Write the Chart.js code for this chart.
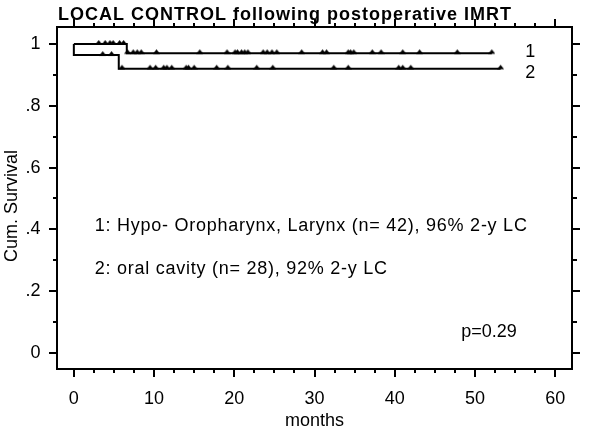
<!DOCTYPE html>
<html><head><meta charset="utf-8">
<script src="https://cdn.jsdelivr.net/npm/chart.js@4.4.1/dist/chart.umd.min.js"></script>
<style>html,body{margin:0;padding:0;background:#fff;}#wrap{width:600px;height:434px;position:relative;}</style>
</head><body><div id="wrap"><canvas id="c" width="600" height="434"></canvas></div>
<script>
// ---- data ----
const titleText = 'LOCAL CONTROL following postoperative IMRT';
const xTitle = 'months';
const yTitle = 'Cum. Survival';
const xTicks = [0, 10, 20, 30, 40, 50, 60];
const yTicks = [0, 0.2, 0.4, 0.6, 0.8, 1];
const yTickLabels = ['0', '.2', '.4', '.6', '.8', '1'];

// group 1: Hypo-/Oropharynx, Larynx
const g1EventTimes = [6.6];
const g1Levels = [0.97];
const g1End = 52.1;
const g1Censored = [3.1, 3.9, 4.5, 4.9, 5.7, 6.2, 6.7, 7.4, 7.9, 8.4, 10.3, 15.7, 19.1, 20.1, 20.4, 20.9, 21.3, 21.7,
  23.6, 24.1, 24.7, 25.3, 28.4, 31.0, 31.5, 34.2, 34.5, 34.9, 37.2, 38.3, 41.0, 43.1, 47.8, 52.1];

// group 2: oral cavity
const g2EventTimes = [0, 5.6];
const g2Levels = [0.964, 0.92];
const g2End = 53.2;
const g2Censored = [3.6, 4.7, 6.0, 9.5, 10.2, 11.2, 11.6, 12.2, 14.0, 14.3, 15.0, 17.8, 19.2, 22.8, 24.8,
  32.4, 34.2, 40.5, 41.0, 42.0, 53.2];

const noteLines = ['1: Hypo- Oropharynx, Larynx (n= 42), 96% 2-y LC', '2: oral cavity (n= 28), 92% 2-y LC'];
const pText = 'p=0.29';
const curveLabels = ['1', '2'];

// ---- helpers ----
function stepPoints(times, levels, end) {
  const pts = [{x: 0, y: 1}];
  times.forEach((t, i) => pts.push({x: t, y: levels[i]}));
  pts.push({x: end, y: levels[levels.length - 1]});
  return pts;
}
function levelAt(times, levels, t) {
  let v = 1;
  times.forEach((et, i) => { if (t >= et) v = levels[i]; });
  return v;
}
function censorPoints(cens, times, levels) {
  return cens.map(t => ({x: t, y: levelAt(times, levels, t)}));
}
// small triangle marker that sits on the line
const tri = document.createElement('canvas');
tri.width = 7; tri.height = 10;
(function(){
  const c = tri.getContext('2d');
  c.fillStyle = '#000';
  c.beginPath(); c.moveTo(0, 5.5); c.lineTo(7, 5.5); c.lineTo(3.5, 1); c.closePath(); c.fill();
})();

const FONT = '"Liberation Sans", Arial, Helvetica, sans-serif';

const framePlugin = {
  id: 'frame',
  afterDraw(chart) {
    const {ctx, chartArea: a, scales: {x, y}} = chart;
    ctx.save();
    ctx.strokeStyle = '#000';
    ctx.lineWidth = 2;
    ctx.strokeRect(a.left, a.top, a.right - a.left, a.bottom - a.top);
    ctx.beginPath();
    for (let v = 0; v <= 60; v += 2.5) {
      const px = Math.round(x.getPixelForValue(v));
      const major = v % 10 === 0;
      ctx.moveTo(px, a.top); ctx.lineTo(px, a.top - (major ? 8 : 4));
      if (!major) { ctx.moveTo(px, a.bottom); ctx.lineTo(px, a.bottom + 4); }
    }
    for (let i = 0; i <= 10; i++) {
      const py = Math.round(y.getPixelForValue(i / 10));
      const major = i % 2 === 0;
      ctx.moveTo(a.right, py); ctx.lineTo(a.right + (major ? 8 : 5), py);
      if (!major) { ctx.moveTo(a.left, py); ctx.lineTo(a.left - 4, py); }
    }
    ctx.stroke();
    ctx.fillStyle = '#000';
    // title
    ctx.font = 'bold 18px ' + FONT;
    ctx.textAlign = 'left';
    ctx.textBaseline = 'alphabetic';
    if ('letterSpacing' in ctx) ctx.letterSpacing = '1px';
    ctx.fillText(titleText, a.left + 1, 20);
    // notes
    ctx.font = '18px ' + FONT;
    if ('letterSpacing' in ctx) ctx.letterSpacing = '0.75px';
    ctx.fillText(noteLines[0], x.getPixelForValue(2.6), y.getPixelForValue(0.395));
    ctx.fillText(noteLines[1], x.getPixelForValue(2.6), y.getPixelForValue(0.256));
    if ('letterSpacing' in ctx) ctx.letterSpacing = '0px';
    ctx.fillText(pText, x.getPixelForValue(48.3), y.getPixelForValue(0.052));
    ctx.textAlign = 'center';
    ctx.textBaseline = 'middle';
    ctx.fillText(curveLabels[0], x.getPixelForValue(56.9), y.getPixelForValue(0.975));
    ctx.fillText(curveLabels[1], x.getPixelForValue(56.9), y.getPixelForValue(0.905));
    // y axis title
    ctx.save();
    ctx.translate(12, 206);
    ctx.rotate(-Math.PI / 2);
    ctx.fillText(yTitle, 0, 0);
    ctx.restore();
    ctx.restore();
  }
};

new Chart(document.getElementById('c'), {
  type: 'scatter',
  data: {
    datasets: [
      {data: stepPoints(g1EventTimes, g1Levels, g1End), showLine: true, stepped: true, borderColor: '#000',
       borderWidth: 2, pointRadius: 0, fill: false, borderJoinStyle: 'miter', borderCapStyle: 'butt'},
      {data: stepPoints(g2EventTimes, g2Levels, g2End), showLine: true, stepped: true, borderColor: '#000',
       borderWidth: 2, pointRadius: 0, fill: false, borderJoinStyle: 'miter', borderCapStyle: 'butt'},
      {data: censorPoints(g1Censored, g1EventTimes, g1Levels), showLine: false, pointStyle: tri, pointRadius: 4},
      {data: censorPoints(g2Censored, g2EventTimes, g2Levels), showLine: false, pointStyle: tri, pointRadius: 4}
    ]
  },
  options: {
    responsive: false,
    animation: false,
    devicePixelRatio: 1,
    layout: {padding: {left: 0, right: 28, top: 27, bottom: 0}},
    plugins: {
      legend: {display: false},
      tooltip: {enabled: false},
      title: {display: false}
    },
    scales: {
      x: {
        type: 'linear', position: 'bottom', min: -2.1, max: 62.1,
        afterBuildTicks: s => { s.ticks = xTicks.map(v => ({value: v})); },
        afterFit: s => { s.height = 65; },
        grid: {drawOnChartArea: false, drawTicks: true, tickLength: 8, color: '#000', lineWidth: 2},
        border: {display: false},
        ticks: {color: '#000', font: {family: FONT, size: 18}, padding: 11.5, maxRotation: 0, autoSkip: false},
        title: {display: true, text: xTitle, color: '#000', font: {family: FONT, size: 18}, padding: {top: 0, bottom: 2}}
      },
      y: {
        type: 'linear', position: 'left', min: -0.052, max: 1.055,
        afterBuildTicks: s => { s.ticks = yTicks.map(v => ({value: v})); },
        afterFit: s => { s.width = 57; },
        grid: {drawOnChartArea: false, drawTicks: true, tickLength: 8, color: '#000', lineWidth: 2},
        border: {display: false},
        ticks: {color: '#000', font: {family: FONT, size: 18}, padding: 8.5, autoSkip: false,
          callback: (v) => { const i = yTicks.findIndex(t => Math.abs(t - v) < 1e-9); return i >= 0 ? yTickLabels[i] : ''; }},
        title: {display: false}
      }
    }
  },
  plugins: [framePlugin]
});
</script>
</body></html>
